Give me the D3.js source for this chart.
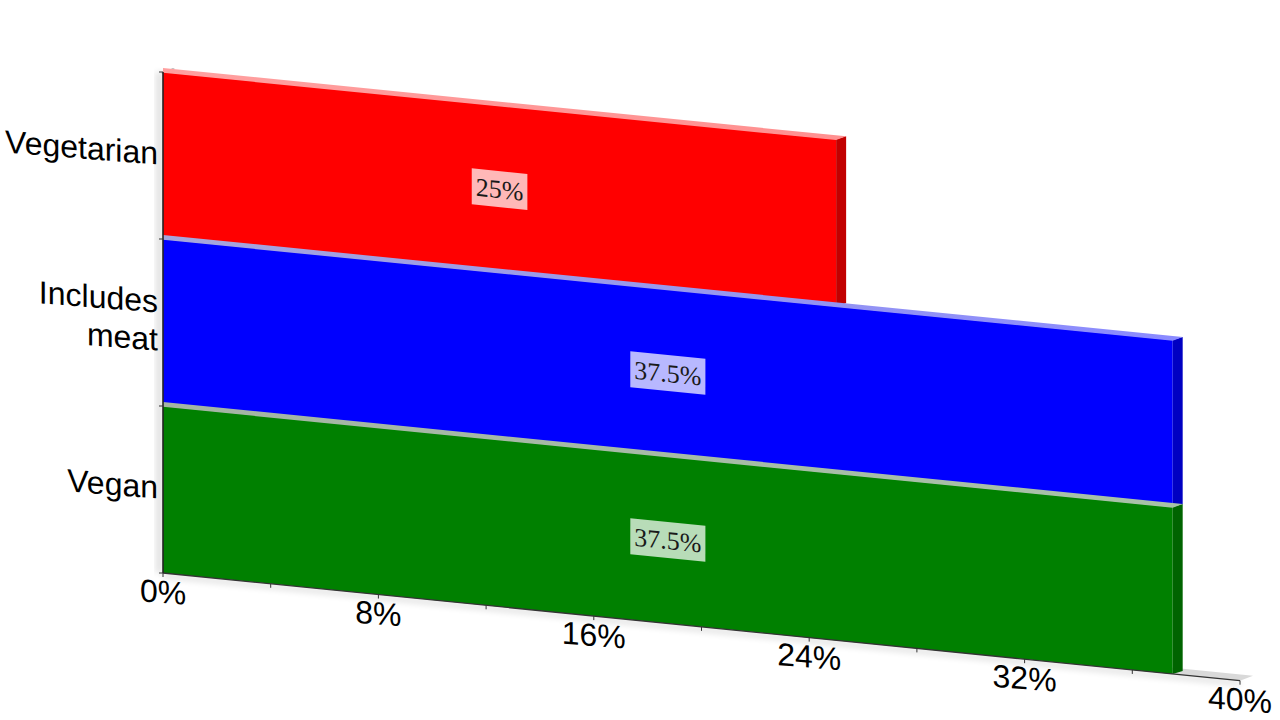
<!DOCTYPE html>
<html>
<head>
<meta charset="utf-8">
<script src="https://cdn.jsdelivr.net/npm/d3@7/dist/d3.min.js"></script>
<style>
  html, body { margin: 0; padding: 0; background: #ffffff; }
  svg { display: block; }
</style>
</head>
<body>
<svg id="chart" width="1280" height="720"></svg>
<script>
// ---- data ----
const categories = ["Vegetarian", "Includes meat", "Vegan"];
const values = [25, 37.5, 37.5];
const valueLabels = ["25%", "37.5%", "37.5%"];
const xTickValues = [0, 8, 16, 24, 32, 40];
const xTickLabels = ["0%", "8%", "16%", "24%", "32%", "40%"];
const xMinorTicks = [0, 4, 8, 12, 16, 20, 24, 28, 32, 36, 40];

// ---- styles ----
const frontColors = ["#ff0000", "#0000ff", "#008000"];
const sideColors = ["#c20000", "#0000c2", "#006400"];
const topColorsL = ["#ffa0a0", "#a6a6dc", "#a4b4a4"];
const topColorsR = ["#ff9090", "#8a8aff", "#a8c2a8"];

const svg = d3.select("#chart");
const defs = svg.append("defs");

const x0 = 163, yTop = 72, yBot = 573, slope = 0.1;
const dX = 10, dY = -3;

const x = d3.scaleLinear().domain([0, 40]).range([0, 1077]);
const y = d3.scaleBand().domain(categories).range([yTop, yBot]).padding(0);

const P = (u, v) => [x0 + u, v + u * slope];
const poly = pts => "M" + pts.map(p => p.join(",")).join("L") + "Z";

// shadow filter
defs.append("filter").attr("id", "blur").attr("x", "-20%").attr("y", "-20%")
  .attr("width", "140%").attr("height", "140%")
  .append("feGaussianBlur").attr("stdDeviation", 3);

// shadows (left wall & floor)
svg.append("rect").attr("x", x0 - 7).attr("y", yTop).attr("width", 7).attr("height", yBot - yTop)
  .attr("fill", "#000").attr("opacity", 0.12).attr("filter", "url(#blur)");
const uMax = x(40);
svg.append("path")
  .attr("d", poly([P(0, yBot), P(uMax, yBot), P(uMax, yBot + 5), P(0, yBot + 5)]))
  .attr("fill", "#000").attr("opacity", 0.12).attr("filter", "url(#blur)");

// floor
svg.append("path")
  .attr("d", poly([P(0, yBot), P(uMax, yBot), [x0 + uMax + 13, yBot + uMax * slope - 5], [x0 + 13, yBot - 5]]))
  .attr("fill", "#d9d9d9");

// left wall top cap
svg.append("path")
  .attr("d", poly([[x0 - 2, yTop + 1], [x0 + 10, yTop - 4], [x0 + 12, yTop - 3], [x0, yTop + 2]]))
  .attr("fill", "#b4b4b4");

// bars
categories.forEach((c, i) => {
  const u1 = x(values[i]);
  const top = y(c), bot = top + y.bandwidth();
  const g = svg.append("g");

  const grad = defs.append("linearGradient").attr("id", "tg" + i)
    .attr("gradientUnits", "userSpaceOnUse")
    .attr("x1", x0).attr("x2", x0 + u1).attr("y1", 0).attr("y2", 0);
  grad.append("stop").attr("offset", 0).attr("stop-color", topColorsL[i]);
  grad.append("stop").attr("offset", 1).attr("stop-color", topColorsR[i]);

  const fTL = P(0, top), fTR = P(u1, top), fBR = P(u1, bot), fBL = P(0, bot);
  g.append("path").attr("d", poly([fTL, fTR, fBR, fBL])).attr("fill", frontColors[i]);
  g.append("path")
    .attr("d", poly([fTR, [fTR[0] + dX, fTR[1] + dY], [fBR[0] + dX, fBR[1] + dY], fBR]))
    .attr("fill", sideColors[i]);
  const backR = [fTR[0] + dX, fTR[1] + dY];
  const backL = [x0, backR[1] - (u1 + dX) * slope];
  g.append("path")
    .attr("d", poly([[fTL[0], fTL[1] + 0.8], [fTR[0], fTR[1] + 0.8], backR, backL]))
    .attr("fill", "url(#tg" + i + ")");
});

// x axis baseline and ticks
svg.append("line")
  .attr("x1", P(0, yBot)[0]).attr("y1", P(0, yBot)[1])
  .attr("x2", P(uMax, yBot)[0]).attr("y2", P(uMax, yBot)[1])
  .attr("stroke", "#333").attr("stroke-width", 1.3);
svg.append("g").selectAll("line").data(xMinorTicks).join("line")
  .attr("x1", d => P(x(d), yBot)[0]).attr("y1", d => P(x(d), yBot)[1])
  .attr("x2", d => P(x(d), yBot)[0]).attr("y2", d => P(x(d), yBot)[1] + 4)
  .attr("stroke", "#333").attr("stroke-width", 1);

const skewDeg = 4.5;
svg.append("g").selectAll("g").data(xTickValues).join("g")
  .attr("transform", d => {
    const p = P(x(d), yBot);
    return `translate(${p[0]},${p[1] + 30}) skewY(${skewDeg})`;
  })
  .append("text")
  .attr("text-anchor", "middle")
  .attr("font-family", "'Liberation Sans', Arial, sans-serif")
  .attr("font-size", 32)
  .attr("fill", "#000")
  .text((d, i) => xTickLabels[i]);

// y axis
svg.append("line").attr("x1", x0).attr("x2", x0).attr("y1", yTop).attr("y2", yBot)
  .attr("stroke", "#222").attr("stroke-width", 1.6);
const bounds = categories.map(c => y(c)).concat([yBot]);
svg.append("g").selectAll("line").data(bounds).join("line")
  .attr("x1", x0 - 4).attr("x2", x0).attr("y1", d => d).attr("y2", d => d)
  .attr("stroke", "#333").attr("stroke-width", 1);

// category labels
categories.forEach((c, i) => {
  const yc = y(c) + y.bandwidth() / 2;
  const lines = c.length > 10 ? c.split(" ") : [c];
  const lh = 38;
  const g = svg.append("g").attr("transform", `translate(158,${yc}) skewY(${skewDeg})`);
  lines.forEach((ln, k) => {
    g.append("text")
      .attr("x", 0)
      .attr("y", 9 + (k - (lines.length - 1) / 2) * lh)
      .attr("text-anchor", "end")
      .attr("font-family", "'Liberation Sans', Arial, sans-serif")
      .attr("font-size", 32)
      .attr("fill", "#000")
      .text(ln);
  });
});

// value labels
categories.forEach((c, i) => {
  const u1 = x(values[i]);
  const yc = y(c) + y.bandwidth() / 2;
  const cp = P(u1 / 2, yc);
  const g = svg.append("g")
    .attr("transform", `translate(${cp[0]},${cp[1]}) skewY(${Math.atan(slope) * 180 / Math.PI})`);
  const rect = g.append("rect").attr("fill", "#fff").attr("opacity", 0.72);
  const t = g.append("text")
    .attr("text-anchor", "middle")
    .attr("y", 9)
    .attr("font-family", "'Liberation Serif', 'Times New Roman', serif")
    .attr("font-size", 26)
    .attr("fill", "#1a1a1a")
    .text(valueLabels[i]);
  const w = t.node().getComputedTextLength() + 8;
  rect.attr("x", -w / 2).attr("y", -18).attr("width", w).attr("height", 36);
});
</script>
</body>
</html>
